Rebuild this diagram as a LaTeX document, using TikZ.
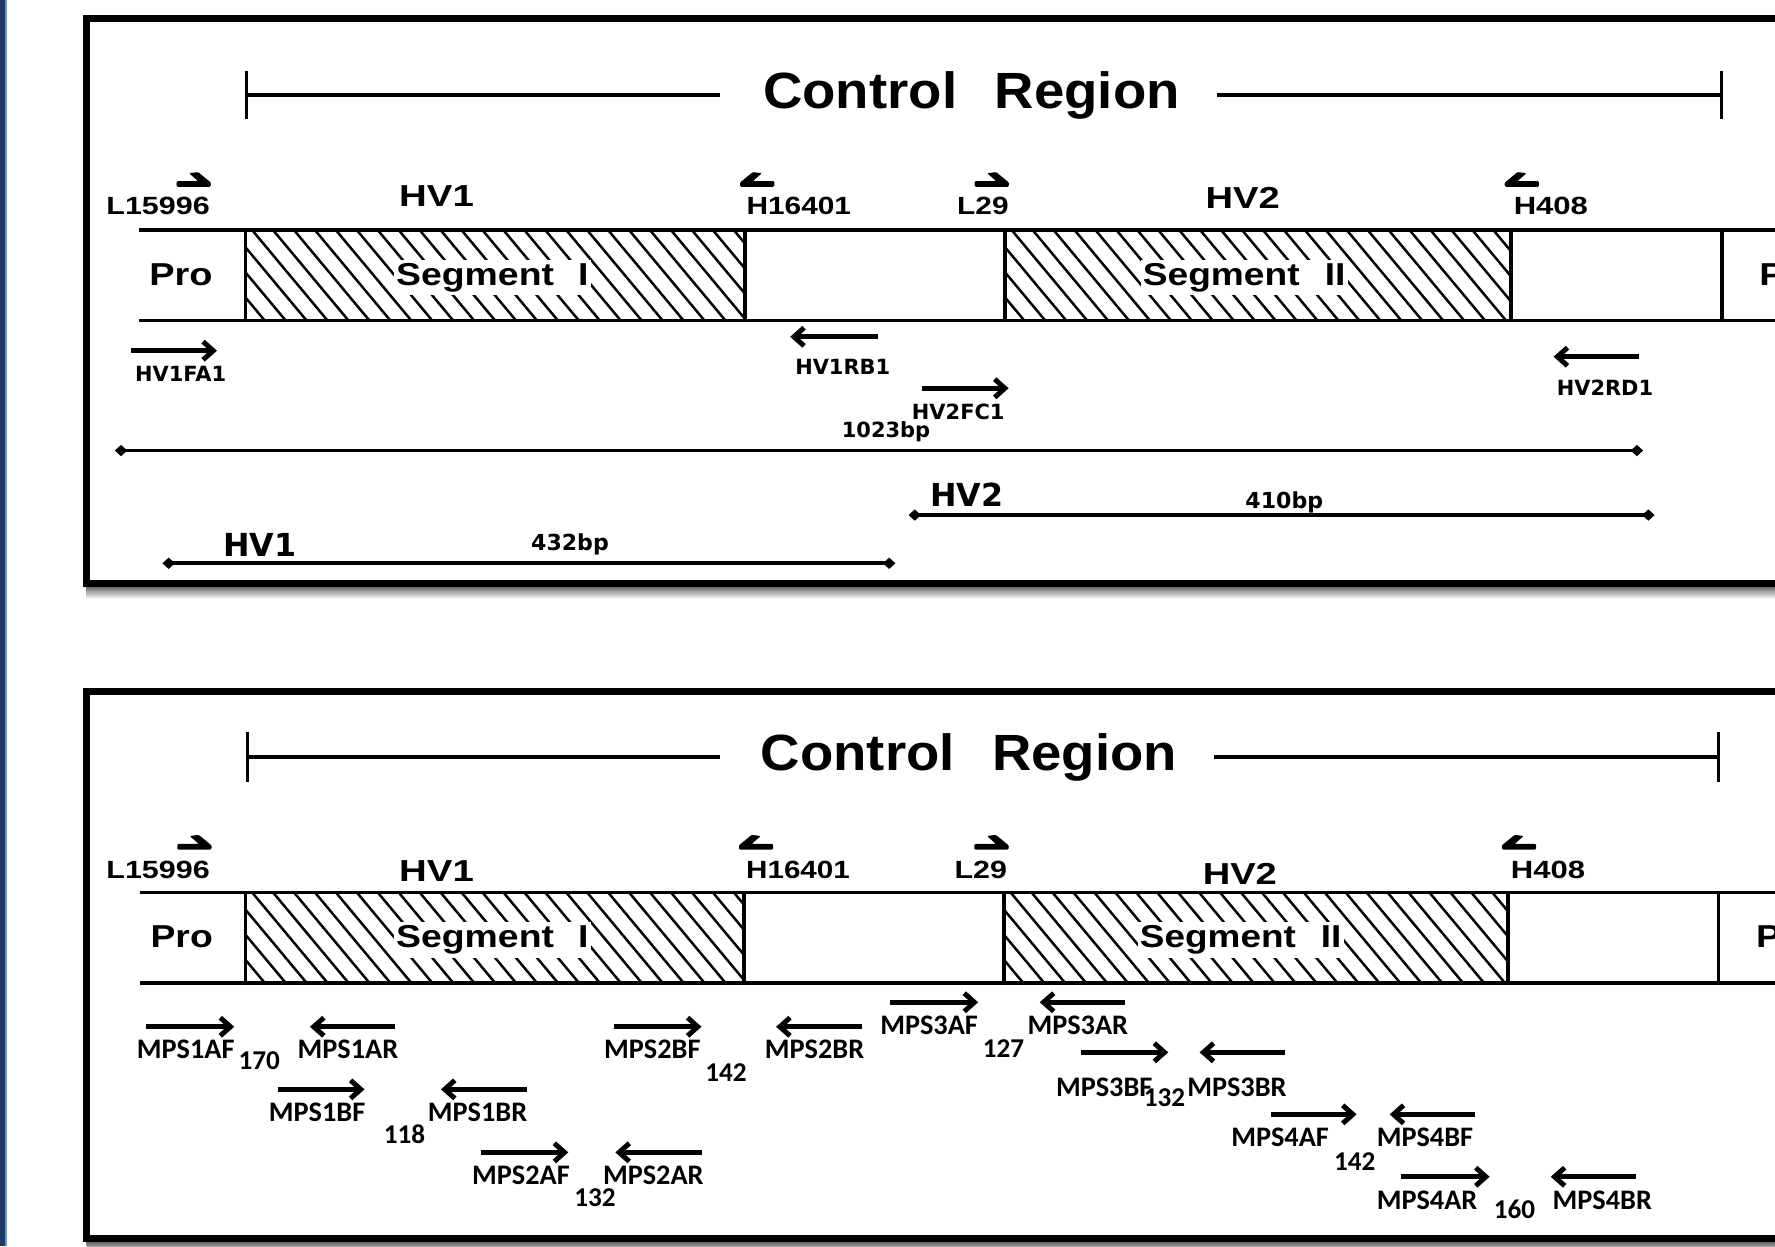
\documentclass[tikz,border=0pt]{standalone}
\usepackage{fontspec}
\usepackage{graphicx}
\usetikzlibrary{arrows.meta}
\newfontfamily\hel{Liberation Sans}
\newfontfamily\tah{DejaVu Sans}
\newfontfamily\calb{Carlito}
\newcommand{\fitw}[2]{\resizebox{#1pt}{\height}{#2}}
\definecolor{navyb}{RGB}{31,56,100}
\definecolor{lblue}{RGB}{91,155,213}
% hatched segment
\newcommand{\hatchbox}[4]{%
  \begin{scope}
    \clip (#1,#2) rectangle (#3,#4);
    \foreach \k in {0,...,30}{\draw[hatchline] ({#1-70+\k*18.5},{#2-2}) -- ++(68.4,82);}
  \end{scope}}
% right-pointing half arrow (harpoon), #1 = right tip x, #2 = bar centre y
\newcommand{\myhookR}[2]{%
  \fill[rounded corners=1pt] (#1,{#2+2.5}) -- ({#1-30},{#2+2.5}) -- ({#1-30},{#2-2.5}) -- ({#1-11},{#2-2.5})
    -- ({#1-19},{#2-9.5}) -- ({#1-11},{#2-10.5}) -- ({#1+0.5},{#2-1}) -- cycle;}
% left-pointing half arrow, #1 = left tip x, #2 = bar centre y
\newcommand{\myhookL}[2]{%
  \fill[rounded corners=1pt] (#1,{#2+2.5}) -- ({#1+30},{#2+2.5}) -- ({#1+30},{#2-2.5}) -- ({#1+11},{#2-2.5})
    -- ({#1+19},{#2-9.5}) -- ({#1+11},{#2-10.5}) -- ({#1-0.5},{#2-1}) -- cycle;}
% primer arrow between two named coordinates
\newcommand{\primerarrow}[4]{%
  \coordinate (#1s) at (#2,#4); \coordinate (#1e) at (#3,#4);
  \draw[primer] (#1s) -- (#1e);}
\newcommand{\spanline}[4]{%
  \coordinate (#1s) at (#2,#4); \coordinate (#1e) at (#3,#4);
  \draw[spanl] (#1s) -- (#1e);}

\begin{document}
\begin{tikzpicture}[x=1pt,y=-1pt,
  lab/.style={inner sep=0pt, anchor=base west},
  hl/.style={lab, font=\hel\bfseries\fontsize{22}{24}\selectfont},
  hlbig/.style={lab, font=\hel\bfseries\fontsize{26.8}{28}\selectfont},
  hb/.style={lab, font=\hel\bfseries\fontsize{28}{30}\selectfont},
  title/.style={lab, font=\hel\bfseries\fontsize{45}{48}\selectfont},
  tb/.style={lab, font=\tah\bfseries\fontsize{18.5}{20}\selectfont},
  tbig/.style={lab, font=\tah\bfseries\fontsize{28}{30}\selectfont},
  tbp/.style={lab, font=\tah\bfseries\fontsize{19.5}{21}\selectfont},
  cb/.style={lab, font=\calb\bfseries\fontsize{25}{27}\selectfont},
  cn/.style={lab, font=\calb\bfseries\fontsize{24}{26}\selectfont},
  segtext/.style={hb, fill=white, inner xsep=2pt, inner ysep=3pt},
  primer/.style={line width=4.4pt, -{Straight Barb[length=9pt,width=16pt]}},
  spanl/.style={line width=3.2pt, {Diamond[length=11pt,width=10pt]}-{Diamond[length=11pt,width=10pt]}},
  bandline/.style={line width=3.3pt},
  segline/.style={line width=3.2pt},
  hatchline/.style={line width=2.2pt},
  ctrl/.style={line width=3.4pt},
  tickl/.style={line width=2.8pt},
  framel/.style={line width=6.5pt}]

\useasboundingbox (0,0) rectangle (1568,1101);
\clip (0,0) rectangle (1568,1101);
\fill[white] (0,0) rectangle (1568,1101);

% left slide border
\fill[navyb] (0,0) rectangle (4.5,1101);
\fill[lblue] (4.5,0) rectangle (6,1101);

%================ TOP PANEL =================
\shade[top color=black!60, bottom color=white] (76.5,518) rectangle (1700,529);
\draw[framel] (76.5,16.5) rectangle (1700,515.3);

% control region bracket
\node[title] (crT) at (674,95.7) {\fitw{368}{Control\hspace{31pt}Region}};
\coordinate (crLa) at (218,84); \coordinate (crLb) at (636,84);
\coordinate (crRa) at (1075,84); \coordinate (crRb) at (1521,84);
\draw[ctrl] (crLa) -- (crLb);
\draw[ctrl] (crRa) -- (crRb);
\draw[tickl] (218,63) -- (218,105);
\draw[tickl] (1521,63) -- (1521,105);

% primer hooks
\myhookR{186}{162.5}
\myhookL{654}{162.5}
\myhookR{891}{162.5}
\myhookL{1329.5}{162.5}

\node[hl] (tL15996) at (93.8,189.9) {\fitw{91.3}{L15996}};
\node[hl] (tH16401) at (659.3,189.9) {\fitw{92.3}{H16401}};
\node[hl] (tL29) at (845.4,189.9) {\fitw{45.4}{L29}};
\node[hl] (tH408) at (1337,189.9) {\fitw{65.6}{H408}};
\node[hlbig] (tHV1) at (352.4,182.6) {\fitw{66}{HV1}};
\node[hlbig] (tHV2) at (1064.8,184) {\fitw{65.5}{HV2}};

% band
\hatchbox{217}{203.2}{658}{283}
\hatchbox{888}{203.2}{1335}{283}
\draw[bandline] (123,203.2) -- (1700,203.2);
\draw[bandline] (123,283) -- (1700,283);
\foreach \xx in {217,658,888,1335,1521} \draw[segline] (\xx,203.2) -- (\xx,283);
\node[hb] (tPro) at (131.8,251.8) {\fitw{55.8}{Pro}};
\node[hb] (tPro2) at (1554,251.8) {\fitw{55.8}{Pro}};
\node[segtext] (tSeg1) at (347.8,251.8) {\fitw{169.8}{Segment\hspace{18pt}I}};
\node[segtext] (tSeg2) at (1007.4,251.8) {\fitw{178.9}{Segment\hspace{19pt}II}};

% primers
\primerarrow{pFA1}{115.7}{191.7}{309.8}
\primerarrow{pRB1}{776}{698}{297.5}
\primerarrow{pFC1}{814.5}{891}{343}
\primerarrow{pRD1}{1448}{1372.4}{315.1}
\node[tb] (tFA1) at (119.2,337.2) {HV1FA1};
\node[tb] (tRB1) at (702.3,331) {HV1RB1};
\node[tb] (tFC1) at (805.4,371) {HV2FC1};
\node[tb] (tRD1) at (1375,349) {HV2RD1};

% amplicon spans
\node[tb] (t1023) at (743.5,386.6) {1023bp};
\spanline{s1023}{101.4}{1451.5}{398}
\node[tbig] (tbHV2) at (821.7,447.6) {HV2};
\node[tbp] (t410) at (1100,449) {410bp};
\spanline{s410}{802.6}{1461.6}{455}
\node[tbig] (tbHV1) at (196.8,491.2) {HV1};
\node[tbp] (t432) at (469,485.9) {432bp};
\spanline{s432}{143.5}{791}{497.6}

%================ BOTTOM PANEL =================
\shade[top color=black!60, bottom color=black!25] (76.5,1097) rectangle (1700,1103);
\draw[framel] (76.5,610.6) rectangle (1700,1094);

\node[title] (crT2) at (671.9,680.2) {\fitw{367.7}{Control\hspace{31pt}Region}};
\coordinate (crLa2) at (219,669); \coordinate (crLb2) at (636,669);
\coordinate (crRa2) at (1072.4,669); \coordinate (crRb2) at (1518,669);
\draw[ctrl] (crLa2) -- (crLb2);
\draw[ctrl] (crRa2) -- (crRb2);
\draw[tickl] (219,647) -- (219,690.5);
\draw[tickl] (1518,647) -- (1518,690.5);

\myhookR{186.6}{748}
\myhookL{653}{748}
\myhookR{890.8}{748}
\myhookL{1327}{748}

\node[hl] (bL15996) at (93.8,776) {\fitw{91.3}{L15996}};
\node[hl] (bH16401) at (659,776) {\fitw{91.5}{H16401}};
\node[hl] (bL29) at (843,776) {\fitw{46.3}{L29}};
\node[hl] (bH408) at (1334.5,776) {\fitw{65.6}{H408}};
\node[hlbig] (bHV1) at (352.4,779) {\fitw{66}{HV1}};
\node[hlbig] (bHV2) at (1062.3,781) {\fitw{65.5}{HV2}};

\hatchbox{217}{788.3}{657.5}{868.6}
\hatchbox{887}{788.3}{1332}{868.6}
\draw[bandline] (124,788.3) -- (1700,788.3);
\draw[bandline] (124,868.6) -- (1700,868.6);
\foreach \xx in {217,657.5,887,1332,1518} \draw[segline] (\xx,788.3) -- (\xx,868.6);
\node[hb] (bPro) at (132.8,837) {\fitw{55}{Pro}};
\node[hb] (bPro2) at (1551,837) {\fitw{55}{Pro}};
\node[segtext] (bSeg1) at (347.8,837) {\fitw{169.8}{Segment\hspace{18pt}I}};
\node[segtext] (bSeg2) at (1004.8,837) {\fitw{178}{Segment\hspace{19pt}II}};

% MPS primers
\primerarrow{m1AF}{129.3}{206.9}{907}
\primerarrow{m1AR}{348.9}{273.8}{907}
\primerarrow{m1BF}{245.9}{322}{962.3}
\primerarrow{m1BR}{465.5}{389.5}{962.3}
\primerarrow{m2AF}{425}{502}{1018}
\primerarrow{m2AR}{619.7}{543.6}{1018}
\primerarrow{m2BF}{542.6}{619.7}{907}
\primerarrow{m2BR}{761.7}{685.6}{907}
\primerarrow{m3AF}{786.5}{864.1}{885.4}
\primerarrow{m3AR}{994.2}{918.5}{885.4}
\primerarrow{m3BF}{954.9}{1032}{929.6}
\primerarrow{m3BR}{1135.4}{1059.7}{929.6}
\primerarrow{m4AF}{1122.8}{1198.4}{984.4}
\primerarrow{m4BF}{1303.3}{1227.6}{984.4}
\primerarrow{m4AR}{1237.7}{1315.9}{1039.5}
\primerarrow{m4BR}{1445.5}{1369.9}{1039.5}

\node[cb] (l1AF) at (120.7,934.9) {MPS1AF};
\node[cn] (n170) at (210.5,944.6) {170};
\node[cb] (l1AR) at (262.7,934.9) {MPS1AR};
\node[cb] (l1BF) at (237.3,991) {MPS1BF};
\node[cb] (l1BR) at (377.8,991) {MPS1BR};
\node[cn] (n118) at (338.8,1010) {118};
\node[cb] (l2AF) at (416.9,1046) {MPS2AF};
\node[cb] (l2AR) at (532.5,1046) {MPS2AR};
\node[cn] (n132a) at (507.1,1066) {132};
\node[cb] (l2BF) at (533.5,934.9) {MPS2BF};
\node[cb] (l2BR) at (675.5,934.9) {MPS2BR};
\node[cn] (n142a) at (622.8,955.5) {142};
\node[cb] (l3AF) at (777.4,913.4) {MPS3AF};
\node[cb] (l3AR) at (907.5,913.4) {MPS3AR};
\node[cn] (n127) at (868.1,934) {127};
\node[cb] (l3BF) at (932.7,969) {MPS3BF};
\node[cn] (n132b) at (1010.3,977.6) {132};
\node[cb] (l3BR) at (1048.6,969) {MPS3BR};
\node[cb] (l4AF) at (1087.5,1013) {MPS4AF};
\node[cb] (l4BF) at (1216,1013) {MPS4BF};
\node[cn] (n142b) at (1178.3,1033.6) {142};
\node[cb] (l4AR) at (1216,1068) {MPS4AR};
\node[cb] (l4BR) at (1371.4,1068) {MPS4BR};
\node[cn] (n160) at (1319.4,1076) {160};

\end{tikzpicture}
\end{document}
